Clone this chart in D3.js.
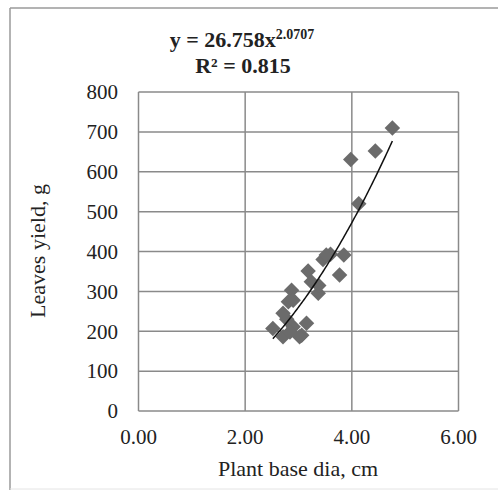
<!DOCTYPE html>
<html>
<head>
<meta charset="utf-8">
<script src="https://cdn.jsdelivr.net/npm/d3@7"></script>
<style>
  body { margin: 0; background: #fff; }
  text { font-family: "Liberation Serif", "Times New Roman", serif; fill: #222; }
</style>
</head>
<body>
<svg width="498" height="490"></svg>
<script>
// plant base diameter (cm) and leaves yield (g)
var baseDia = [4.76, 3.98, 4.44, 4.13, 3.85, 3.77, 3.60, 3.46, 3.52, 3.18, 3.24, 3.37, 3.38,
               2.87, 2.81, 2.90, 2.71, 2.52, 2.71, 2.90, 3.06, 3.15, 2.84, 2.78, 3.02];
var leafYield = [710, 631, 652, 520, 391, 341, 393, 380, 391, 351, 324, 295, 315,
                 303, 274, 278, 245, 207, 186, 211, 190, 220, 198, 230, 186];
var xTicks = [0, 2, 4, 6];
var yTicks = [0, 100, 200, 300, 400, 500, 600, 700, 800];
var coefA = 26.758, coefB = 2.0707;

var svg = d3.select("svg");

// outer frame
svg.append("line").attr("x1", 10).attr("x2", 498).attr("y1", 8).attr("y2", 8)
   .attr("stroke", "#9a9a9a").attr("stroke-width", 1.5);
svg.append("line").attr("x1", 10).attr("x2", 10).attr("y1", 8).attr("y2", 490)
   .attr("stroke", "#9a9a9a").attr("stroke-width", 1.5);
svg.append("line").attr("x1", 10).attr("x2", 498).attr("y1", 489).attr("y2", 489)
   .attr("stroke", "#e4e4e4").attr("stroke-width", 1);

var x = d3.scaleLinear().domain([0, 6]).range([138.5, 458.5]);
var y = d3.scaleLinear().domain([0, 800]).range([411, 92]);

var grid = svg.append("g").attr("stroke", "#8a8a8a").attr("stroke-width", 1.5);
grid.selectAll(".h").data(yTicks).enter().append("line")
    .attr("x1", x(0)).attr("x2", x(6))
    .attr("y1", d => y(d)).attr("y2", d => y(d));
grid.selectAll(".v").data(xTicks).enter().append("line")
    .attr("y1", y(0)).attr("y2", y(800))
    .attr("x1", d => x(d)).attr("x2", d => x(d));

svg.append("g").selectAll("text").data(yTicks).enter().append("text")
   .attr("x", 118).attr("y", d => y(d)).attr("dy", "0.35em")
   .attr("text-anchor", "end").attr("font-size", 21)
   .text(d => d);

svg.append("g").selectAll("text").data(xTicks).enter().append("text")
   .attr("x", d => x(d)).attr("y", 444)
   .attr("text-anchor", "middle").attr("font-size", 21)
   .text(d => d.toFixed(2));

svg.append("text").attr("x", 298).attr("y", 476)
   .attr("text-anchor", "middle").attr("font-size", 22)
   .text("Plant base dia, cm");

svg.append("text").attr("transform", "translate(45,251) rotate(-90)")
   .attr("text-anchor", "middle").attr("font-size", 22)
   .text("Leaves yield, g");

// markers
var diamond = d3.symbol().type(d3.symbolSquare).size(120);
svg.append("g").selectAll("path").data(baseDia).enter().append("path")
   .attr("d", diamond)
   .attr("transform", (d, i) => "translate(" + x(d) + "," + y(leafYield[i]) + ") rotate(45)")
   .attr("fill", "#6b6b6b");

// power trendline
var xs = d3.range(101).map(i => d3.min(baseDia) + i * (d3.max(baseDia) - d3.min(baseDia)) / 100);
svg.append("path")
   .datum(xs)
   .attr("d", d3.line().x(d => x(d)).y(d => y(coefA * Math.pow(d, coefB))))
   .attr("fill", "none").attr("stroke", "#111").attr("stroke-width", 1.5);

// equation
var eq = svg.append("text").attr("x", 242).attr("y", 47)
   .attr("text-anchor", "middle").attr("font-size", 22).attr("font-weight", "bold");
eq.append("tspan").text("y = 26.758x");
eq.append("tspan").attr("font-size", 14).attr("dy", -8).text("2.0707");
svg.append("text").attr("x", 243).attr("y", 73)
   .attr("text-anchor", "middle").attr("font-size", 22).attr("font-weight", "bold")
   .text("R² = 0.815");
</script>
</body>
</html>
